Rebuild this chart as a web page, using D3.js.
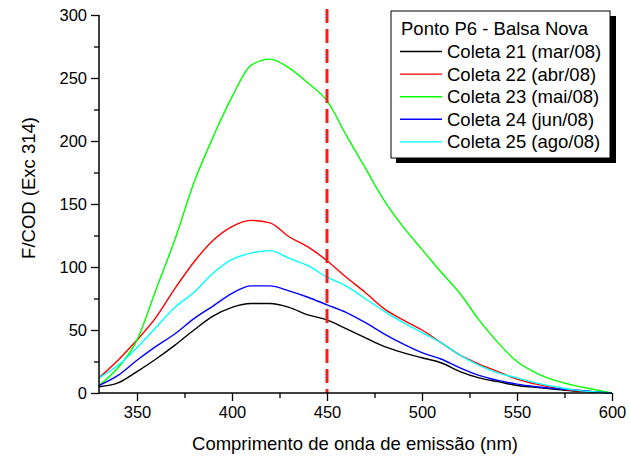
<!DOCTYPE html>
<html>
<head>
<meta charset="utf-8">
<script src="https://cdn.jsdelivr.net/npm/d3@7"></script>
<style>
  body { margin: 0; background: #fff; }
  svg { font-family: "Liberation Sans", Arial, sans-serif; }
</style>
</head>
<body>
<div id="chart"></div>
<script>
// wavelengths (nm), read every 10 nm
var wavelengths = [330,340,350,360,370,380,390,400,410,420,430,440,450,460,470,480,490,500,510,520,530,540,550,560,570,580,590,600];

var coleta21 = [5,8,17,27,38,50,61,68,71,71,68,62,58,51,44,37,32,28,24,17,12,9,6,4.5,3,1.5,1,0];
var coleta22 = [12,26,42,60,83,104,121,132,137,135,124,116,105,92,80,67,58,50,40,30,23,17,11,7,4,2,1,0];
var coleta23 = [6,20,42,82,122,167,203,235,260,265,258,246,232,205,179,153,132,114,96,79,58,40,25,16,10,6,3,0];
var coleta24 = [6,14,26,37,47,59,69,79,85,85,81,76,70,64,56,47,39,32,27,20,14,10,7,5,3.5,2.5,1,0];
var coleta25 = [12,22,36,52,68,80,95,106,111,113,107,101,92,85,75,65,56,48,40,30,22,16,12,8,5,2.5,1,0];

var seriesNames = ["Coleta 21 (mar/08)", "Coleta 22 (abr/08)", "Coleta 23 (mai/08)", "Coleta 24 (jun/08)", "Coleta 25 (ago/08)"];
var seriesColors = ["#000000", "#ff0000", "#00ff00", "#0000ff", "#00ffff"];
var seriesValues = [coleta21, coleta22, coleta23, coleta24, coleta25];

var xTicks = [350,400,450,500,550,600];
var yTicks = [0,50,100,150,200,250,300];
var markLine = 450;

var width = 630, height = 456;
var plotLeft = 99, plotRight = 612, plotTop = 15, plotBottom = 393;

var svg = d3.select("#chart").append("svg")
    .attr("width", width)
    .attr("height", height);

var x = d3.scaleLinear().domain([330, 600]).range([plotLeft, plotRight]);
var y = d3.scaleLinear().domain([0, 300]).range([plotBottom, plotTop]);

var line = d3.line()
    .x(function(d) { return x(d[0]); })
    .y(function(d) { return y(d[1]); })
    .curve(d3.curveMonotoneX);

// curves
seriesValues.forEach(function(vals, i) {
  svg.append("path")
     .datum(wavelengths.map(function(w, j) { return [w, vals[j]]; }))
     .attr("fill", "none")
     .attr("stroke", seriesColors[i])
     .attr("stroke-width", 1.4)
     .attr("d", line);
});

// dashed marker at 450 nm
svg.append("line")
   .attr("x1", x(markLine)).attr("x2", x(markLine))
   .attr("y1", 9).attr("y2", plotBottom)
   .attr("stroke", "#ff1a1a")
   .attr("stroke-width", 3)
   .attr("stroke-dasharray", "14,6");

// axes
var xAxis = svg.append("g")
   .attr("transform", "translate(0," + plotBottom + ")")
   .call(d3.axisBottom(x).tickValues(xTicks).tickSize(8).tickPadding(5).tickFormat(d3.format("d")));
var xMinor = svg.append("g")
   .attr("transform", "translate(0," + plotBottom + ")")
   .call(d3.axisBottom(x).tickValues([375,425,475,525,575]).tickSize(5).tickFormat(""));

var yAxis = svg.append("g")
   .attr("transform", "translate(" + plotLeft + ",0)")
   .call(d3.axisLeft(y).tickValues(yTicks).tickSize(8).tickPadding(4).tickFormat(d3.format("d")));
var yMinor = svg.append("g")
   .attr("transform", "translate(" + plotLeft + ",0)")
   .call(d3.axisLeft(y).tickValues([25,75,125,175,225,275]).tickSize(5).tickFormat(""));

[xAxis, xMinor, yAxis, yMinor].forEach(function(g) {
  g.selectAll("path").attr("stroke", "#000").attr("stroke-width", 1.5);
  g.selectAll("line").attr("stroke", "#000").attr("stroke-width", 1.3);
  g.selectAll("text").attr("font-size", 16.5).attr("fill", "#000")
   .attr("font-family", "Liberation Sans, Arial, sans-serif");
});
xAxis.select(".domain").attr("d", "M" + plotLeft + ",0H" + plotRight);
yAxis.select(".domain").attr("d", "M0," + plotBottom + "V" + plotTop);
xMinor.select(".domain").remove();
yMinor.select(".domain").remove();

// axis titles
svg.append("text")
   .attr("x", 355)
   .attr("y", 450)
   .attr("text-anchor", "middle")
   .attr("font-size", 18.5)
   .text("Comprimento de onda de emissão (nm)");

svg.append("text")
   .attr("transform", "translate(35,188) rotate(-90)")
   .attr("text-anchor", "middle")
   .attr("font-size", 18.5)
   .text("F/COD (Exc 314)");

// legend
var lg = svg.append("g");
lg.append("rect")
  .attr("x", 396).attr("y", 16).attr("width", 220).attr("height", 147)
  .attr("fill", "#000");
lg.append("rect")
  .attr("x", 391).attr("y", 11).attr("width", 219).attr("height", 147)
  .attr("fill", "#fff").attr("stroke", "#000").attr("stroke-width", 1);
lg.append("text")
  .attr("x", 401).attr("y", 35)
  .attr("font-size", 18.5)
  .text("Ponto P6 - Balsa Nova");

seriesNames.forEach(function(name, i) {
  var cy = 51.5 + i * 22.6;
  lg.append("line")
    .attr("x1", 400).attr("x2", 442)
    .attr("y1", cy).attr("y2", cy)
    .attr("stroke", seriesColors[i])
    .attr("stroke-width", 1.4);
  lg.append("text")
    .attr("x", 447).attr("y", cy + 6.5)
    .attr("font-size", 18.5)
    .text(name);
});
</script>
</body>
</html>
